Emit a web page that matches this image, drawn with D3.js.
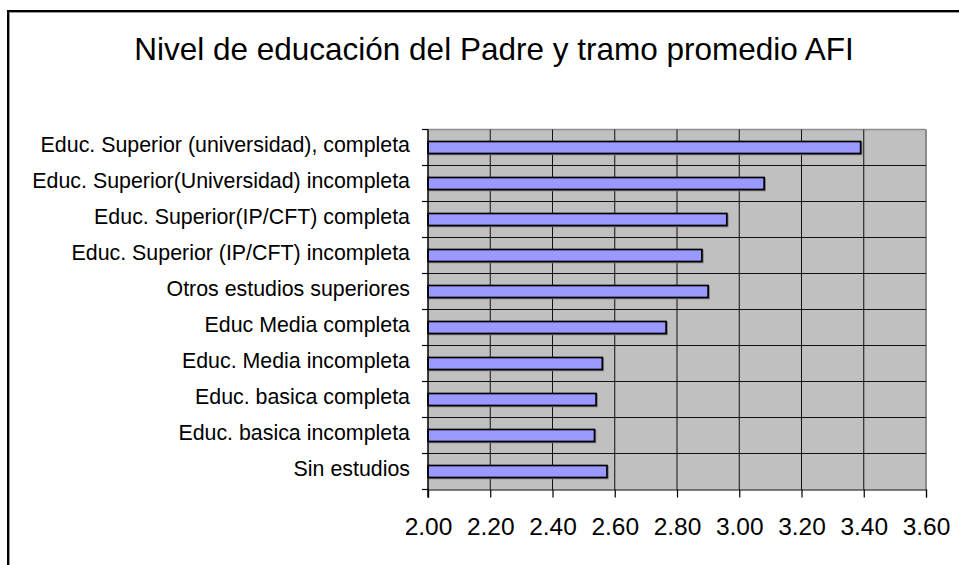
<!DOCTYPE html>
<html>
<head>
<meta charset="utf-8">
<script src="https://cdn.jsdelivr.net/npm/d3@7"></script>
<style>
  html, body { margin: 0; padding: 0; background: #fff; }
  svg { display: block; font-family: "Liberation Sans", Arial, sans-serif; }
</style>
</head>
<body>
<svg id="chart" width="959" height="565"></svg>
<script>
const categories = [
  "Educ. Superior (universidad), completa",
  "Educ. Superior(Universidad) incompleta",
  "Educ. Superior(IP/CFT) completa",
  "Educ. Superior (IP/CFT) incompleta",
  "Otros estudios superiores",
  "Educ Media completa",
  "Educ. Media incompleta",
  "Educ. basica completa",
  "Educ. basica incompleta",
  "Sin estudios"
];
const values = [3.39, 3.08, 2.96, 2.88, 2.90, 2.765, 2.56, 2.54, 2.535, 2.575];
const xTicks = [2.0, 2.2, 2.4, 2.6, 2.8, 3.0, 3.2, 3.4, 3.6];
const title = "Nivel de educación del Padre y tramo promedio AFI";

const svg = d3.select("#chart");

// outer chart border
svg.append("rect").attr("x", 9).attr("y", 12).attr("width", 1000).attr("height", 600)
  .attr("fill", "none").attr("stroke", "#999").attr("stroke-width", 2);
svg.append("rect").attr("x", 8).attr("y", 11).attr("width", 1000).attr("height", 600)
  .attr("fill", "none").attr("stroke", "#000").attr("stroke-width", 2);

const pLeft = 428, pRight = 926, pTop = 129.5, pBottom = 489.5;

const x = d3.scaleLinear().domain([2, 3.6]).range([pLeft, pRight]);
const y = d3.scaleBand().domain(categories).range([pTop, pBottom])
  .paddingInner(2/3).paddingOuter(1/3);

// plot background
svg.append("rect").attr("x", pLeft).attr("y", pTop)
  .attr("width", pRight - pLeft).attr("height", pBottom - pTop)
  .attr("fill", "#C0C0C0");

// plot border (top/right gray)
svg.append("line").attr("x1", pLeft).attr("x2", pRight).attr("y1", pTop).attr("y2", pTop)
  .attr("stroke", "#8c8c8c").attr("stroke-width", 1.5);
svg.append("line").attr("x1", pRight).attr("x2", pRight).attr("y1", pTop).attr("y2", pBottom)
  .attr("stroke", "#8c8c8c").attr("stroke-width", 2);

// vertical gridlines
svg.append("g").selectAll("line").data(xTicks.slice(1, -1)).join("line")
  .attr("x1", d => x(d)).attr("x2", d => x(d))
  .attr("y1", pTop).attr("y2", pBottom)
  .attr("stroke", "#111").attr("stroke-width", 1);

// horizontal gridlines at category boundaries
const boundary = c => y(c) + y.bandwidth() / 2 - y.step() / 2;
svg.append("g").selectAll("line").data(categories.slice(1)).join("line")
  .attr("x1", pLeft).attr("x2", pRight)
  .attr("y1", d => boundary(d)).attr("y2", d => boundary(d))
  .attr("stroke", "#111").attr("stroke-width", 1);

// bars shadow + bars
svg.append("g").selectAll("rect").data(values).join("rect")
  .attr("x", x(2) + 1)
  .attr("y", (d, i) => y(categories[i]) + 1)
  .attr("width", d => x(d) - x(2))
  .attr("height", y.bandwidth())
  .attr("fill", "none").attr("stroke", "#7a7a7a").attr("stroke-width", 1.5);
svg.append("g").selectAll("rect").data(values).join("rect")
  .attr("x", x(2))
  .attr("y", (d, i) => y(categories[i]))
  .attr("width", d => x(d) - x(2))
  .attr("height", y.bandwidth())
  .attr("fill", "#9999FF").attr("stroke", "#000").attr("stroke-width", 1.7);

// x axis
const xAxis = d3.axisBottom(x).tickValues(xTicks).tickFormat(d3.format(".2f"))
  .tickSize(8).tickPadding(20);
const gx = svg.append("g").attr("transform", `translate(0,${pBottom})`).call(xAxis);
gx.select(".domain").attr("stroke", "#000").attr("stroke-width", 1.2);
gx.selectAll(".tick line").attr("stroke", "#000").attr("stroke-width", 1.2);
gx.selectAll(".tick text").attr("font-size", "24.5px").attr("fill", "#000")
  .attr("font-family", "'Liberation Sans', Arial, sans-serif");

// y axis line and boundary ticks
const gy = svg.append("g");
gy.append("line").attr("x1", pLeft).attr("x2", pLeft).attr("y1", pTop).attr("y2", pBottom + 8)
  .attr("stroke", "#000").attr("stroke-width", 1.5);
const bounds = categories.map(boundary).concat([pBottom]);
gy.selectAll("line.tk").data(bounds).join("line").attr("class", "tk")
  .attr("x1", pLeft - 6).attr("x2", pLeft).attr("y1", d => d).attr("y2", d => d)
  .attr("stroke", "#000").attr("stroke-width", 1.2);

// category labels (slightly condensed)
svg.append("g").selectAll("text").data(categories).join("text")
  .attr("transform", d => `translate(410,${y(d) + y.bandwidth() / 2 + 4}) scale(0.93,1)`)
  .attr("text-anchor", "end")
  .attr("font-size", "23px").attr("fill", "#000")
  .text(d => d);

// title
svg.append("text").attr("x", 494).attr("y", 60).attr("text-anchor", "middle")
  .attr("font-size", "31.5px").attr("fill", "#000").text(title);
</script>
</body>
</html>
